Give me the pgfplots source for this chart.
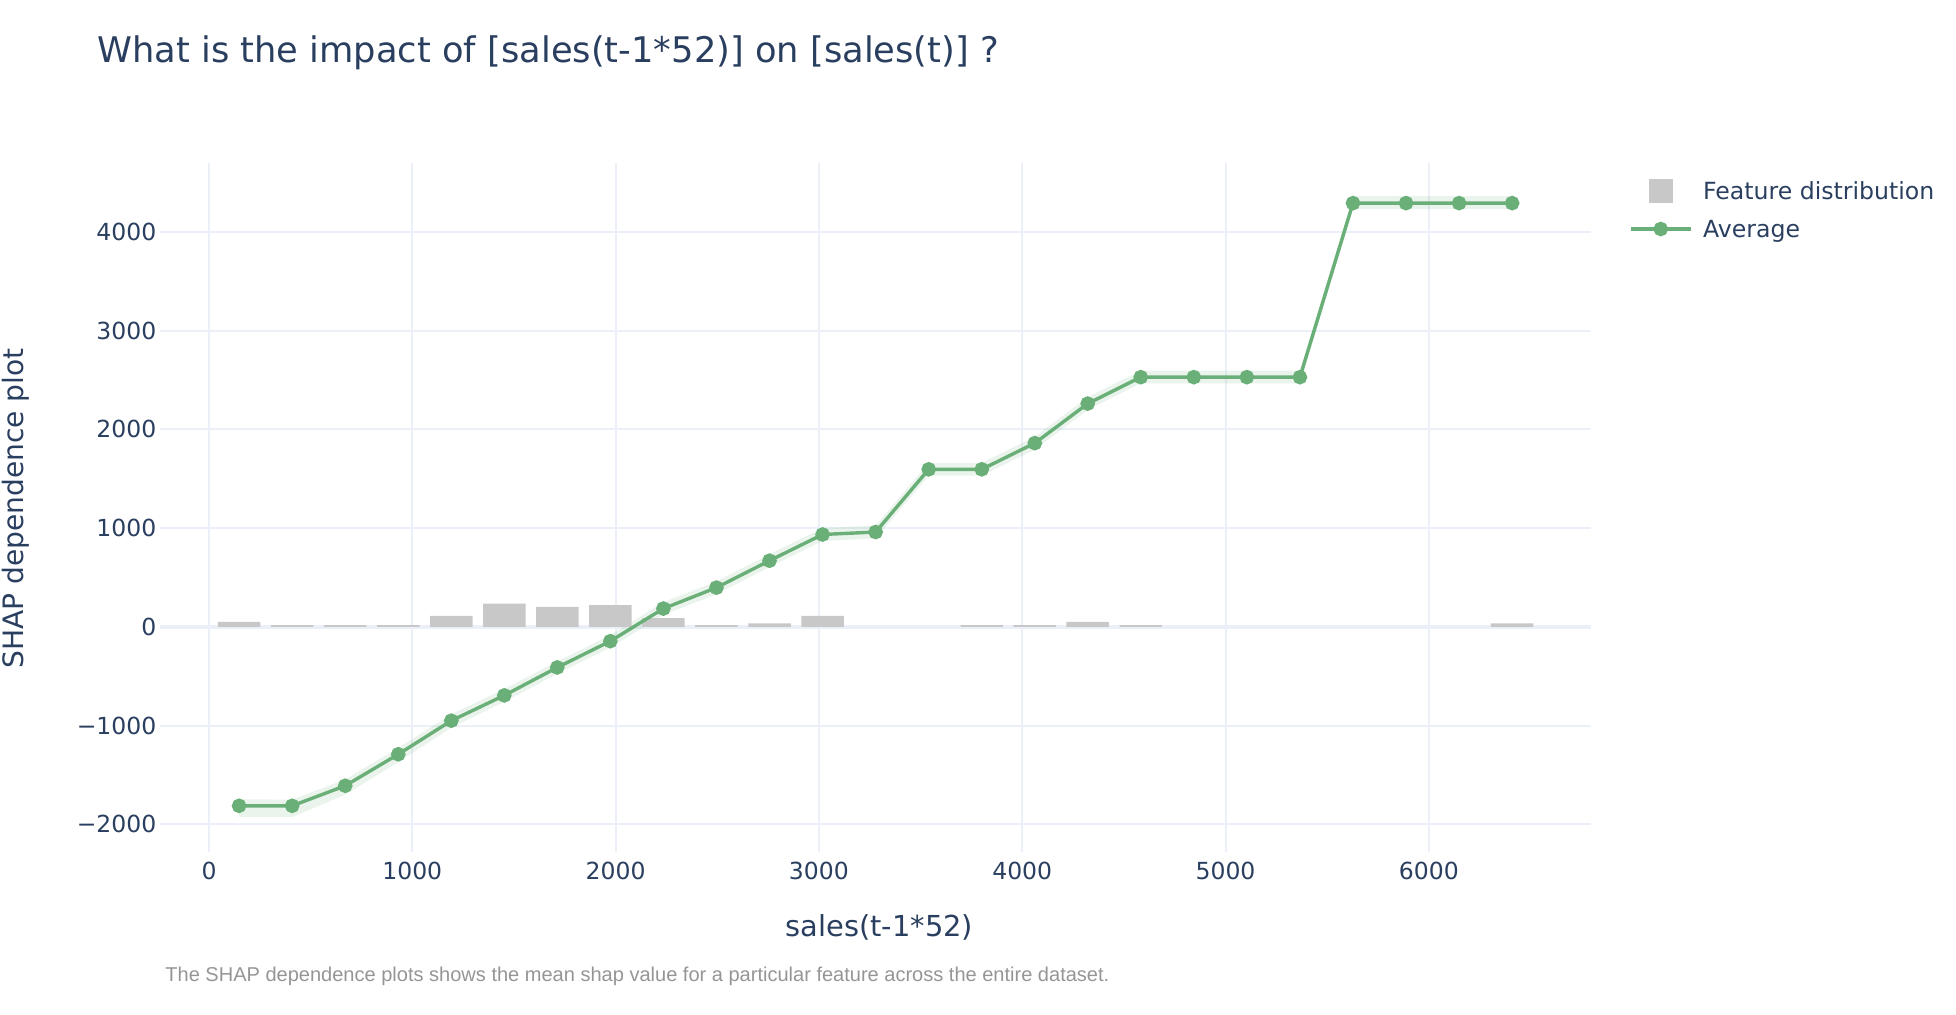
\documentclass[border=0pt]{standalone}
\usepackage{pgfplots}
\pgfplotsset{compat=1.18}
\usepackage{fontspec}
\setmainfont{DejaVu Sans}
\newfontfamily\capfont{Liberation Sans}
\definecolor{txt}{HTML}{2A3F5F}
\definecolor{gridc}{HTML}{EBF0F8}
\definecolor{lgreen}{HTML}{6AAF78}
\definecolor{barc}{HTML}{C8C8C8}
\definecolor{capc}{HTML}{959595}
\begin{document}
\begin{tikzpicture}[x=0.5bp,y=-0.5bp]
\useasboundingbox (0,0) rectangle (1956,1014);
\begin{axis}[
  at={(80bp,-426bp)}, anchor=south west,
  width=715.5bp, height=344.5bp, scale only axis,
  xmin=-241, xmax=6798, ymin=-2280, ymax=4696,
  axis line style={draw=none}, tick style={draw=none},
  xtick={0,1000,2000,3000,4000,5000,6000},
  xticklabels={0,1000,2000,3000,4000,5000,6000},
  ytick={-2000,-1000,1000,2000,3000,4000},
  yticklabels={−2000,−1000,1000,2000,3000,4000},
  extra y ticks={0}, extra y tick labels={0},
  extra y tick style={grid=major, major grid style={gridc, line width=2bp}},
  grid=major, major grid style={gridc, line width=1bp},
  ticklabel style={font=\fontsize{11.8}{14}\selectfont, text=txt},
  xticklabel style={anchor=north, inner sep=0pt, yshift=-4.85bp},
  yticklabel style={anchor=east, inner sep=0pt, xshift=-1.65bp},
  legend cell align=left,
  legend style={at={(1.02655,0.98012)}, anchor=north west, draw=none, fill=none,
    inner sep=0pt, outer sep=0pt, row sep=4.7bp, column sep=5.3bp,
    font=\fontsize{11.85}{14}\selectfont, text=txt,
    nodes={inner sep=0pt, text height=11.3bp, text depth=3bp}},
]
% confidence band
\addplot[fill=lgreen, fill opacity=0.14, draw=none, forget plot] coordinates {
(148,-1745) (409,-1750) (670,-1545) (931,-1225) (1192,-885) (1452.5,-630) (1713,-350)
(1974,-85) (2235,250) (2496,460) (2757,735) (3018,1000) (3279,1025) (3540,1660)
(3801,1660) (4062,1925) (4322,2325) (4583,2595) (4844,2595) (5105,2595) (5366,2595)
(5627,4360) (5888,4360) (6149,4360) (6410,4360)
(6410,4230) (6149,4230) (5888,4230) (5627,4230)
(5366,2465) (5105,2465) (4844,2465) (4583,2465) (4322,2195) (4062,1795) (3801,1530)
(3540,1530) (3279,895) (3018,870) (2757,605) (2496,330) (2235,120) (1974,-210)
(1713,-475) (1452.5,-760) (1192,-1020) (931,-1370) (670,-1700) (409,-1925) (148,-1925)
};
% feature distribution
\addplot[ybar, bar width=209, fill=barc, draw=none,
  legend image code/.code={\path[draw=none, fill=none] (0,-1bp) rectangle (30bp,1bp);
    \fill[barc] (9bp,-6bp) rectangle (21bp,6bp);}] coordinates {
(148,50) (409,17) (670,17) (931,17) (1192,111) (1452.5,236) (1713,202) (1974,219)
(2235,88) (2496,17) (2757,34) (3018,111) (3801,17) (4062,17) (4322,50) (4583,17)
(6410,34)
};
\addlegendentry{Feature distribution}
% average
\addplot[lgreen, line width=1.7bp, mark=*, mark size=2.8bp,
  mark options={solid, fill=lgreen, draw=none},
  legend image code/.code={\draw[lgreen, line width=1.7bp] (0,0) -- (30bp,0);
    \fill[lgreen] (15bp,0) circle (2.8bp);}] coordinates {
(148,-1812) (409,-1812) (670,-1609) (931,-1290) (1192,-950) (1452.5,-694) (1713,-411)
(1974,-145) (2235,185) (2496,397) (2757,670) (3018,935) (3279,960) (3540,1595)
(3801,1595) (4062,1860) (4322,2260) (4583,2528) (4844,2528) (5105,2528) (5366,2528)
(5627,4290) (5888,4290) (6149,4290) (6410,4290)
};
\addlegendentry{Average}
\end{axis}
\node[anchor=base west, inner sep=0pt, text=txt, font=\fontsize{17.7}{21}\selectfont]
  at (97,62.3) {What is the impact of [sales(t-1*52)] on [sales(t)] ?};
\node[anchor=base, inner sep=0pt, text=txt, font=\fontsize{14.5}{17}\selectfont]
  at (879.5,936) {sales(t-1*52)};
\node[rotate=90, anchor=base, inner sep=0pt, text=txt, font=\fontsize{14.1}{17}\selectfont]
  at (23.3,508.5) {SHAP dependence plot};
\node[anchor=base west, inner sep=0pt, text=capc, font=\capfont\fontsize{10.05}{12}\selectfont]
  at (165,981.7) {The SHAP dependence plots shows the mean shap value for a particular feature across the entire dataset.};
\end{tikzpicture}
\end{document}
